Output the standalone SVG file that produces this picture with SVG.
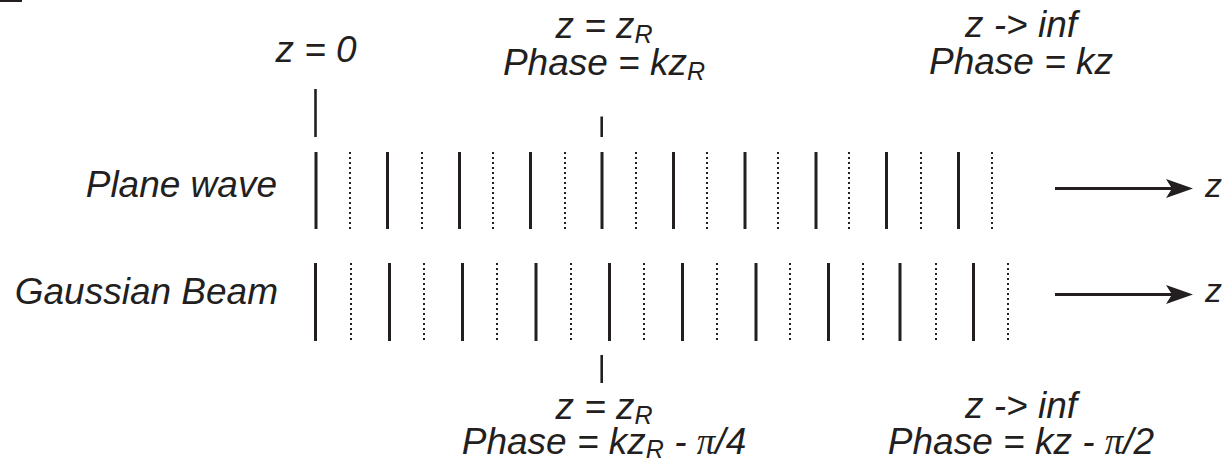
<svg xmlns="http://www.w3.org/2000/svg" width="1227" height="460" viewBox="0 0 1227 460">
  <style>
    .t { font-family: "Liberation Sans", Arial, sans-serif; font-style: italic; font-size: 37px; fill: #231f20; }
    .sub { font-size: 25px; }
    .pi { font-family: "Liberation Serif", "Times New Roman", serif; font-style: italic; }
    .ax { font-size: 34px; }
    .solid { stroke: #231f20; stroke-width: 3; fill: none; }
    .dot { stroke: #231f20; stroke-width: 2; stroke-dasharray: 2 3; fill: none; }
    .tick { stroke: #231f20; stroke-width: 2.6; fill: none; }
    .arrow { stroke: #231f20; stroke-width: 3; fill: none; }
  </style>
  <defs>
    <marker id="ah" markerUnits="userSpaceOnUse" markerWidth="32" markerHeight="24" viewBox="0 -12 32 24" refX="13" refY="0" orient="auto">
      <path d="M0,-9.5 L27,0 L0,9.5 L6,0 Z" fill="#231f20"/>
    </marker>
  </defs>
  <rect x="0" y="0" width="22" height="2" fill="#231f20"/>

  <g id="label-plane-wave">
    <text class="t" x="277" y="197" text-anchor="end">Plane wave</text>
  </g>
  <g id="label-gaussian-beam">
    <text class="t" x="278" y="304" text-anchor="end">Gaussian Beam</text>
  </g>

  <g id="marker-z0">
    <text class="t" x="316" y="62" text-anchor="middle">z = 0</text>
    <line class="tick" x1="315.5" y1="89" x2="315.5" y2="137"/>
  </g>
  <g id="marker-zR-top">
    <text class="t" x="604" y="38" text-anchor="middle">z = z<tspan class="sub" dy="5">R</tspan></text>
    <text class="t" x="604" y="75" text-anchor="middle">Phase = kz<tspan class="sub" dy="5">R</tspan></text>
    <line class="tick" x1="601.7" y1="116.5" x2="601.7" y2="137"/>
  </g>
  <g id="marker-inf-top">
    <text class="t" x="1021" y="37" text-anchor="middle">z -&gt; inf</text>
    <text class="t" x="1021" y="74" text-anchor="middle">Phase = kz</text>
  </g>
  <g id="marker-zR-bottom">
    <line class="tick" x1="601.7" y1="355" x2="601.7" y2="383"/>
    <text class="t" x="604" y="419" text-anchor="middle">z = z<tspan class="sub" dy="5">R</tspan></text>
    <text class="t" x="604" y="454" text-anchor="middle">Phase = kz<tspan class="sub" dy="4">R</tspan><tspan dy="-4"> - </tspan><tspan class="pi">π</tspan>/4</text>
  </g>
  <g id="marker-inf-bottom">
    <text class="t" x="1021" y="418" text-anchor="middle">z -&gt; inf</text>
    <text class="t" x="1021" y="454" text-anchor="middle">Phase = kz - <tspan class="pi">π</tspan>/2</text>
  </g>

  <g id="plane-wavefronts">
    <path class="solid" d="M316,152V229 M387.5,152V229 M459.5,152V229 M530.5,152V229 M602,152V229 M673.5,152V229 M745,152V229 M816,152V229 M886.5,152V229 M958.5,152V229"/>
    <path class="dot" d="M350,152V229 M422,152V229 M493,152V229 M565,152V229 M636,152V229 M707,152V229 M778,152V229 M849,152V229 M921,152V229 M992,152V229"/>
  </g>
  <g id="gaussian-wavefronts">
    <path class="solid" d="M315.5,263V341 M389.5,263V341 M462.5,263V341 M536,263V341 M609.5,263V341 M682.5,263V341 M756,263V341 M828.5,263V341 M900,263V341 M973.5,263V341"/>
    <path class="dot" d="M351,263V341 M424,263V341 M497,263V341 M571,263V341 M644,263V341 M717,263V341 M790,263V341 M863,263V341 M936,263V341 M1008,263V341"/>
  </g>

  <g id="connectors">
    <line class="arrow" x1="1055" y1="188.5" x2="1179" y2="188.5" marker-end="url(#ah)"/>
    <line class="arrow" x1="1055" y1="294.5" x2="1179" y2="294.5" marker-end="url(#ah)"/>
  </g>
  <g id="axis-label-plane">
    <text class="t ax" x="1205" y="197">z</text>
  </g>
  <g id="axis-label-gaussian">
    <text class="t ax" x="1205" y="302">z</text>
  </g>
</svg>
